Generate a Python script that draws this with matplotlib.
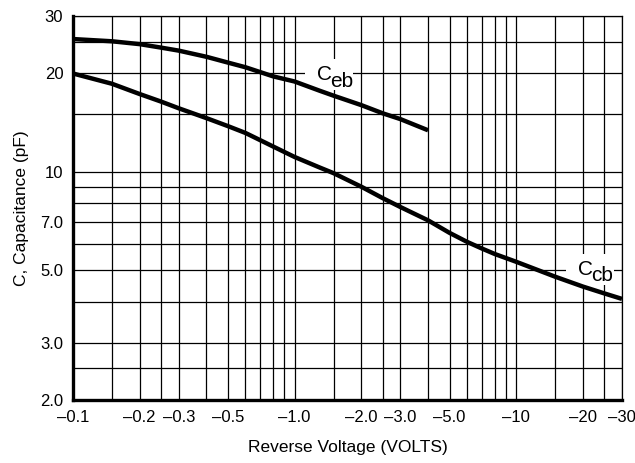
import numpy as np
import matplotlib
matplotlib.use('Agg')
import matplotlib.pyplot as plt
from matplotlib import font_manager
from matplotlib.patches import Rectangle
from matplotlib.transforms import ScaledTranslation

plt.rcParams['font.family'] = ['Liberation Sans', 'DejaVu Sans']

names = set(f.name for f in font_manager.fontManager.ttflist)
label_font = ['Liberation Sans Narrow', 'Liberation Sans'] if 'Liberation Sans Narrow' in names \
    else ['Liberation Sans']

# (reverse voltage magnitude in volts, capacitance in pF)
v_eb = [0.1, 0.15, 0.2, 0.25, 0.3, 0.4, 0.5, 0.6, 0.8, 1.0, 1.3, 1.5, 2.0, 2.5, 3.0, 4.0]
c_eb = [25.5, 25.1, 24.6, 24.0, 23.5, 22.5, 21.6, 20.9, 19.6, 18.9, 17.7, 17.1, 16.0, 15.1, 14.5, 13.4]

v_cb = [0.1, 0.15, 0.2, 0.25, 0.3, 0.4, 0.5, 0.6, 0.8, 1.0, 1.3, 1.5, 2.0, 2.5, 3.0, 4.0,
        5.0, 6.0, 7.0, 8.0, 10, 15, 20, 25, 30]
c_cb = [20.0, 18.6, 17.3, 16.4, 15.65, 14.6, 13.8, 13.15, 11.95, 11.1, 10.3, 9.9, 9.0, 8.3, 7.8, 7.1,
        6.5, 6.1, 5.82, 5.6, 5.3, 4.77, 4.45, 4.24, 4.08]

x_ticks = [0.1, 0.2, 0.3, 0.5, 1, 2, 3, 5, 10, 20, 30]
x_labels = ['\u20130.1', '\u20130.2', '\u20130.3', '\u20130.5', '\u20131.0', '\u20132.0',
            '\u20133.0', '\u20135.0', '\u201310', '\u201320', '\u201330']
y_ticks = [2, 3, 5, 7, 10, 20, 30]
y_labels = ['2.0', '3.0', '5.0', '7.0', '10', '20', '30']

x_grid = [0.1, 0.15, 0.2, 0.25, 0.3, 0.4, 0.5, 0.6, 0.7, 0.8, 0.9, 1.0,
          1.5, 2, 2.5, 3, 4, 5, 6, 7, 8, 9, 10, 15, 20, 25, 30]
y_grid = [2, 2.5, 3, 4, 5, 6, 7, 8, 9, 10, 15, 20, 25, 30]

fig = plt.figure(figsize=(6.35, 4.63), dpi=100)
ax = fig.add_axes([73/635, 1 - 400/463, (622-73)/635, (400-16)/463])
ax.set_xscale('log')
ax.set_yscale('log')
ax.set_xlim(0.1, 30)
ax.set_ylim(2, 30)

for xv in x_grid:
    ax.axvline(xv, color='black', lw=0.9, zorder=1)
for yv in y_grid:
    ax.axhline(yv, color='black', lw=0.9, zorder=1)

ax.plot(v_eb, c_eb, color='black', lw=3.2, solid_capstyle='butt', zorder=3)
ax.plot(v_cb, c_cb, color='black', lw=3.2, solid_capstyle='butt', zorder=3)


def curve_label(x, y, main, sub, dy):
    # white patch behind the label, sized in inches around the text anchor
    tr = fig.dpi_scale_trans + ScaledTranslation(x, y, ax.transData)
    ax.add_patch(Rectangle((-0.12, -0.10), 0.48, 0.31, transform=tr,
                           facecolor='white', edgecolor='none', zorder=2))
    ax.annotate(main, (x, y), fontsize=15, family=label_font,
                ha='left', va='baseline', zorder=4)
    ax.annotate(sub, (x, y), xytext=(9.3, dy), textcoords='offset points',
                fontsize=15, family=label_font, ha='left', va='baseline', zorder=4)


curve_label(1.262, 19.1, 'C', 'eb', -5)
curve_label(19.0, 4.83, 'C', 'cb', -4)

ax.xaxis.set_minor_locator(matplotlib.ticker.NullLocator())
ax.yaxis.set_minor_locator(matplotlib.ticker.NullLocator())
ax.set_xticks(x_ticks)
ax.set_xticklabels(x_labels)
ax.set_yticks(y_ticks)
ax.set_yticklabels(y_labels)
ax.tick_params(length=0, labelsize=12, pad=7)

for s in ['top', 'right']:
    ax.spines[s].set_linewidth(0.9)
for s in ['left', 'bottom']:
    ax.spines[s].set_linewidth(2.4)

ax.set_xlabel('Reverse Voltage (VOLTS)', fontsize=12.5)
ax.set_ylabel('C, Capacitance (pF)', fontsize=12.5)
ax.xaxis.set_label_coords(0.5, -0.105)
ax.yaxis.set_label_coords(-0.08, 0.5)

fig.savefig('out.png', dpi=100)
